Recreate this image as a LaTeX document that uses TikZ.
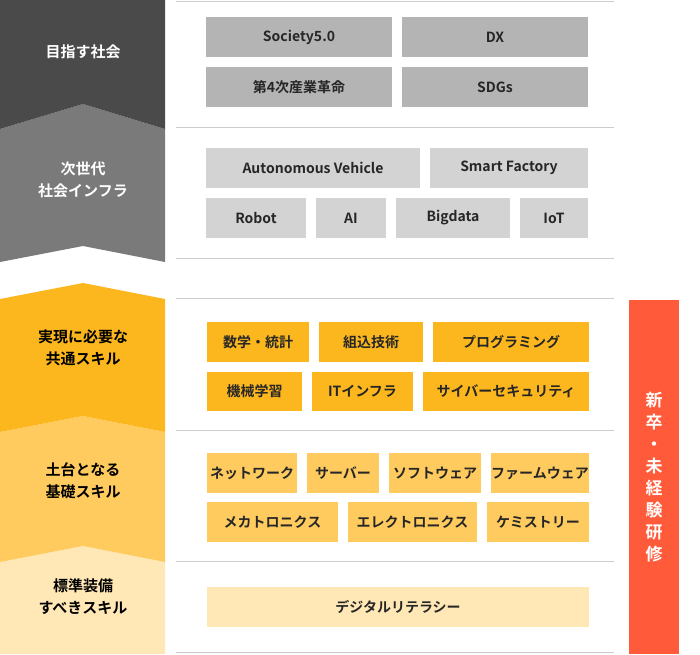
\documentclass[tikz,border=0pt]{standalone}
\usepackage{fontspec}
\setmainfont{Noto Sans CJK JP}[BoldFont={Noto Sans CJK JP Bold}]
\definecolor{dk}{HTML}{4A4A4A}
\definecolor{md}{HTML}{7A7A7A}
\definecolor{or}{HTML}{FDB71E}
\definecolor{ye}{HTML}{FFCB5F}
\definecolor{lt}{HTML}{FFE8B5}
\definecolor{gA}{HTML}{B4B4B4}
\definecolor{gB}{HTML}{D3D3D3}
\definecolor{rd}{HTML}{FF5B3A}
\definecolor{ln}{HTML}{CCCCCC}
\tikzset{
 bx/.style={inner sep=0pt,font=\fontsize{14}{16}\selectfont\bfseries,text=black!85},
 lab/.style={align=center,font=\fontsize{15}{22}\selectfont\bfseries},
}
\newcommand{\bxx}[6]{\fill[#6] (#2,#3) rectangle (#4,#5); \node[bx] (#1) at ({(#2+#4)/2},{(#3+#5)/2}) {#1};}
\begin{document}
\begin{tikzpicture}[x=1pt,y=-1pt]
\useasboundingbox (0,0) rectangle (700,654);
\fill[white] (0,0) rectangle (700,654);
% left chevrons
\fill[lt] (0,562) -- (83,546) -- (165,562) -- (165,654) -- (0,654) -- cycle;
\fill[ye] (0,432) -- (83,416) -- (165,432) -- (165,562) -- (83,546) -- (0,562) -- cycle;
\fill[or] (0,299) -- (83,283) -- (165,299) -- (165,432) -- (83,416) -- (0,432) -- cycle;
\fill[md] (0,129) -- (83,104) -- (165,129) -- (165,262) -- (83,246) -- (0,262) -- cycle;
\fill[dk] (0,0) -- (165,0) -- (165,129) -- (83,104) -- (0,129) -- cycle;
\node[lab,text=white] (l1) at (83,52) {目指す社会};
\node[lab,text=white] (l2) at (83,180) {次世代\\社会インフラ};
\node[lab,text=black] (l3) at (83,348) {実現に必要な\\共通スキル};
\node[lab,text=black] (l4) at (83,481) {土台となる\\基礎スキル};
\node[lab,text=black] (l5) at (83,597) {標準装備\\すべきスキル};
% lines
\foreach \y in {1,127,258,298,430,561,652} \draw[ln,line width=1pt] (176,\y) -- (614,\y);
% red box
\fill[rd] (629,300) rectangle (679,654);
\node[text=white,font=\fontsize{17}{22}\selectfont\bfseries,align=center,inner sep=0pt] (red) at (654,477) {新\\卒\\・\\未\\経\\験\\研\\修};
% boxes
\bxx{Society5.0}{206}{17}{392}{57}{gA}
\bxx{DX}{402}{17}{588}{57}{gA}
\bxx{第4次産業革命}{206}{67}{392}{107}{gA}
\bxx{SDGs}{402}{67}{588}{107}{gA}
\bxx{Autonomous Vehicle}{206}{148}{420}{188}{gB}
\bxx{Smart Factory}{430}{148}{588}{188}{gB}
\bxx{Robot}{206}{198}{306}{238}{gB}
\bxx{AI}{316}{198}{386}{238}{gB}
\bxx{Bigdata}{396}{198}{510}{238}{gB}
\bxx{IoT}{520}{198}{588}{238}{gB}
\bxx{数学・統計}{207}{322}{309}{362}{or}
\bxx{組込技術}{319}{322}{423}{362}{or}
\bxx{プログラミング}{433}{322}{589}{362}{or}
\bxx{機械学習}{207}{372}{302}{411}{or}
\bxx{ITインフラ}{312}{372}{413}{411}{or}
\bxx{サイバーセキュリティ}{423}{372}{589}{411}{or}
\bxx{ネットワーク}{207}{453}{297}{493}{ye}
\bxx{サーバー}{307}{453}{379}{493}{ye}
\bxx{ソフトウェア}{389}{453}{481}{493}{ye}
\bxx{ファームウェア}{491}{453}{589}{493}{ye}
\bxx{メカトロニクス}{207}{502}{338}{542}{ye}
\bxx{エレクトロニクス}{348}{502}{477}{542}{ye}
\bxx{ケミストリー}{487}{502}{589}{542}{ye}
\bxx{デジタルリテラシー}{207}{587}{589}{627}{lt}
\end{tikzpicture}
\end{document}
